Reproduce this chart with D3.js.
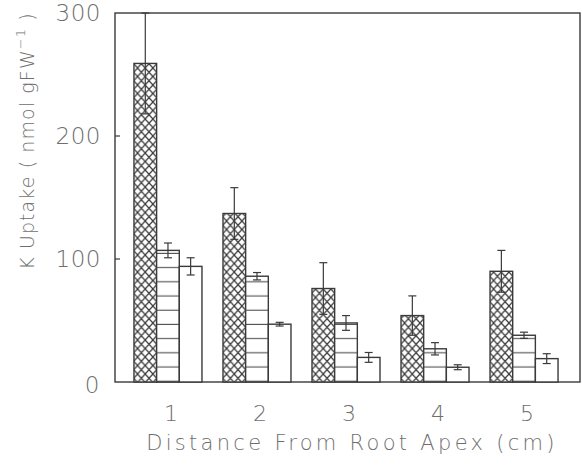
<!DOCTYPE html>
<html><head><meta charset="utf-8">
<script src="https://cdn.jsdelivr.net/npm/d3@7"></script>
<style>body{margin:0;background:#fff}</style>
</head><body>
<svg id="c" width="582" height="465"></svg>
<script>
const categories = ["1","2","3","4","5"];
const seriesNames = ["cross", "lined", "open"];
const crossValues = [259, 137, 76, 54, 90];
const crossErrors = [41, 21, 21, 16, 17];
const linedValues = [107, 86, 48, 27, 38];
const linedErrors = [6, 3, 6, 5, 2.5];
const openValues = [94, 47, 20, 12, 19];
const openErrors = [7, 1.5, 4, 2, 4];
const yTicks = [0, 100, 200, 300];

const values = [crossValues, linedValues, openValues];
const errors = [crossErrors, linedErrors, openErrors];

const svg = d3.select("#c");
const L = 115, R = 580, T = 13, B = 382;
const ink = "#3a3a3a", txt = "#6e6e6e";
const font = "'DejaVu Sans', sans-serif";

const x = d3.scaleBand().domain(categories).range([L, 577]).paddingInner(0.236).paddingOuter(0.213);
const xs = d3.scaleBand().domain(seriesNames).range([0, x.bandwidth()]);
const y = d3.scaleLinear().domain([0, 300]).range([B, T]);

const defs = svg.append("defs");
const pc = defs.append("pattern").attr("id","cross").attr("patternUnits","userSpaceOnUse")
  .attr("width", 7.67).attr("height", 8.5).attr("x", x("1"));
pc.append("rect").attr("width",7.67).attr("height",8.5).attr("fill","#fff");
pc.append("path").attr("d","M0,0L7.67,8.5M7.67,0L0,8.5M-1,-1L0,0M7.67,8.5L8.67,9.5")
  .attr("stroke", ink).attr("stroke-width", 1.3).attr("fill","none");
const pl = defs.append("pattern").attr("id","lined").attr("patternUnits","userSpaceOnUse")
  .attr("width", 10).attr("height", 14.2).attr("y", B - 15 - 7);
pl.append("rect").attr("width",10).attr("height",14.2).attr("fill","#fff");
pl.append("line").attr("x1",0).attr("x2",10).attr("y1",7).attr("y2",7)
  .attr("stroke", "#555").attr("stroke-width", 1.1);
const fills = ["url(#cross)", "url(#lined)", "#fff"];

// frame
svg.append("rect").attr("x", L).attr("y", T).attr("width", R - L).attr("height", B - T)
  .attr("fill","none").attr("stroke", ink).attr("stroke-width", 1.4);

// y ticks
const yAxis = svg.append("g");
yTicks.forEach(t => {
  if (t > 0 && t < 300) {
    yAxis.append("line").attr("x1", L).attr("x2", L + 5).attr("y1", y(t)).attr("y2", y(t))
      .attr("stroke", ink).attr("stroke-width", 1.2);
  }
  yAxis.append("text").attr("x", t === 0 ? 100 : 101).attr("y", y(t) + (t === 0 ? 3 : 0))
    .attr("text-anchor","end").attr("dominant-baseline","central")
    .attr("font-family", font).attr("font-weight", 300).attr("font-size", 23).attr("letter-spacing", 0.5)
    .attr("fill", txt).text(t);
});

// bars
const groups = svg.append("g").selectAll("g").data(categories).join("g")
  .attr("transform", d => `translate(${x(d)},0)`);
seriesNames.forEach((s, si) => {
  groups.append("rect")
    .attr("x", (d) => xs(s))
    .attr("y", (d, i) => y(values[si][i]))
    .attr("width", xs.bandwidth())
    .attr("height", (d, i) => B - y(values[si][i]))
    .attr("fill", fills[si]).attr("stroke", ink).attr("stroke-width", 1.4);
});
// error bars
seriesNames.forEach((s, si) => {
  groups.each(function(d, i) {
    const g = d3.select(this);
    const cx = xs(s) + xs.bandwidth() / 2;
    const hi = y(Math.min(300, values[si][i] + errors[si][i]));
    const lo = y(values[si][i] - errors[si][i]);
    g.append("line").attr("x1", cx).attr("x2", cx).attr("y1", hi).attr("y2", lo)
      .attr("stroke", ink).attr("stroke-width", 1.2);
    [hi, lo].forEach(yy => g.append("line").attr("x1", cx - 4).attr("x2", cx + 4)
      .attr("y1", yy).attr("y2", yy).attr("stroke", ink).attr("stroke-width", 1.2));
  });
});

// x labels
svg.append("g").selectAll("text").data(categories).join("text")
  .attr("x", d => x(d) + x.bandwidth() / 2 + 3).attr("y", 413)
  .attr("text-anchor","middle").attr("dominant-baseline","central")
  .attr("font-family", font).attr("font-weight", 300).attr("font-size", 22)
  .attr("fill", txt).text(d => d);

svg.append("text").attr("x", 352).attr("y", 443)
  .attr("text-anchor","middle").attr("dominant-baseline","central")
  .attr("font-family", font).attr("font-weight", 300).attr("font-size", 21)
  .attr("letter-spacing", 3.3)
  .attr("fill", txt).text("Distance From Root Apex (cm)");

const yt = svg.append("text").attr("transform","translate(27,141) rotate(-90)")
  .attr("text-anchor","middle").attr("dominant-baseline","central")
  .attr("font-family", font).attr("font-weight", 300).attr("font-size", 19)
  .attr("letter-spacing", 1.1).attr("fill", txt);
yt.append("tspan").text("K Uptake ( nmol gFW");
yt.append("tspan").attr("dy", -7).attr("font-size", 13).text("−1");
yt.append("tspan").attr("dy", 7).text(" )");
</script>
</body></html>
